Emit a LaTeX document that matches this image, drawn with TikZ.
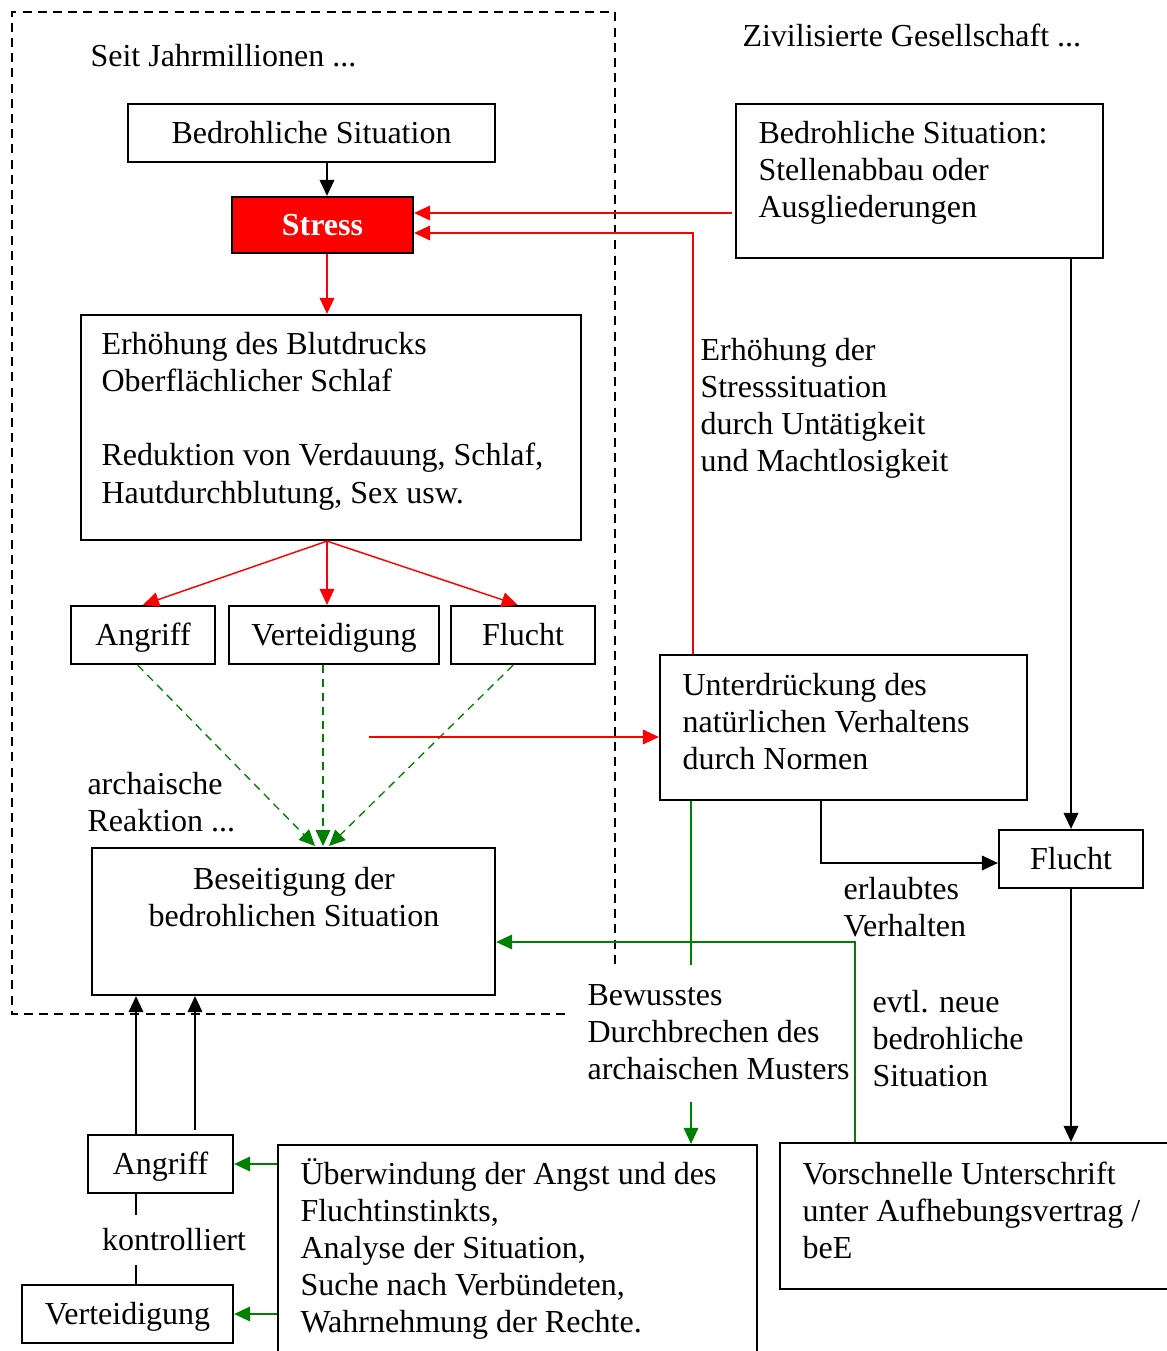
\documentclass[tikz,border=0pt]{standalone}
\usepackage{fontspec}
\setmainfont{Liberation Serif}
\usetikzlibrary{arrows.meta,fit}
\definecolor{darkgreen}{RGB}{0,128,0}

\begin{document}
\begin{tikzpicture}[x=0.375pt,y=-0.375pt,>={Triangle[length=6pt,width=5.5pt]},
    font=\fontsize{12}{13.9}\selectfont,
    box node/.style={draw,line width=0.85pt,inner sep=0pt},
    text node/.style={anchor=north west,inner sep=0pt,align=left,execute at begin node=\strut},
    red line/.style={->,red,line width=0.55pt},
    black line/.style={->,line width=0.6pt},
    green line/.style={darkgreen,line width=0.5pt},
    frame line/.style={line width=0.6pt,dash pattern=on 3.4pt off 2.3pt}]

    \useasboundingbox (0,0) rectangle (1166,1351);

    % frame round the archaic part
    \draw[frame line] (565,1014) -- (12,1014) -- (12,12) -- (615,12) -- (615,965);

    \node (seit) [text node] at (90,40) {Seit Jahrmillionen ...};
    \node (zivil) [text node] at (742,20) {Zivilisierte Gesellschaft ...};

    % boxes
    \node (bedr) [box node,fit={(128,104) (495,162)},label=center:Bedrohliche Situation] {};
    \node (stress) [box node,fill=red,fit={(232,197) (413,253)},
        label={[text=white,font=\fontsize{12}{13.9}\selectfont\bfseries]center:Stress}] {};
    \node (bedrR) [box node,fit={(736,104) (1103,258)}] {};
    \node (blut) [box node,fit={(81,315) (581,540)}] {};
    \node (angr) [box node,fit={(71,606) (215,664)},label={[yshift=-1pt]center:Angriff}] {};
    \node (vert) [box node,fit={(229,606) (439,664)},label={[yshift=-1pt]center:Verteidigung}] {};
    \node (flucht) [box node,fit={(451,606) (595,664)},label=center:Flucht] {};
    \node (besei) [box node,fit={(92,848) (495,995)}] {};
    \node (unter) [box node,fit={(660,655) (1027,800)}] {};
    \node (fluchtR) [box node,fit={(999,830) (1143,888)},label=center:Flucht] {};
    \node (vorsch) [box node,fit={(780,1143) (1178,1289)}] {};
    \node (uberw) [box node,fit={(278,1145) (757,1362)}] {};
    \node (angr2) [box node,fit={(88,1135) (233,1193)},label={[yshift=-1pt]center:Angriff}] {};
    \node (vert2) [box node,fit={(22,1285) (233,1343)},label={[yshift=-1pt]center:Verteidigung}] {};

    % texts
    \node (bedrR-txt) [text node] at (758,121) {Bedrohliche Situation:\\Stellenabbau oder\\Ausgliederungen};
    \node (blut-txt) [text node] at (101,332) {Erhöhung des Blutdrucks\\Oberflächlicher Schlaf\\[13.9pt]Reduktion von Verdauung, Schlaf,\\Hautdurchblutung, Sex usw.};
    \node (erh-txt) [text node] at (700,338) {Erhöhung der\\Stresssituation\\durch Untätigkeit\\und Machtlosigkeit};
    \node (unter-txt) [text node] at (682,673) {Unterdrückung des\\natürlichen Verhaltens\\durch Normen};
    \node (arch-txt) [text node] at (87,772) {archaische\\Reaktion ...};
    \node (besei-txt) [text node,anchor=north,align=center] at (294,867) {Beseitigung der\\bedrohlichen Situation};
    \node (erl-txt) [text node] at (843,877) {erlaubtes\\Verhalten};
    \node (evtl-txt) [text node] at (872,990) {evtl. neue\\bedrohliche\\Situation};
    \node (bew-txt) [text node] at (587,984) {Bewusstes\\Durchbrechen des\\archaischen Musters};
    \node (uberw-txt) [text node] at (300,1158) {Überwindung der Angst und des\\Fluchtinstinkts,\\Analyse der Situation,\\Suche nach Verbündeten,\\Wahrnehmung der Rechte.};
    \node (vorsch-txt) [text node] at (802,1161) {Vorschnelle Unterschrift\\unter Aufhebungsvertrag /\\beE};

    % helper points
    \coordinate (c) at (327,0);
    \coordinate (r1) at (732,213);
    \coordinate (r2) at (693,233);
    \coordinate (r3) at (369,737);
    \coordinate (g1) at (315,846);
    \coordinate (g2) at (323,846);
    \coordinate (g3) at (329,846);
    \coordinate (g4) at (855,942);
    \coordinate (g5) at (691,965);
    \coordinate (g6) at (691,1102);
    \coordinate (b1) at (821,863);
    \coordinate (k1) at (136,0);
    \coordinate (k2) at (195,1130);

    % archaic reaction
    \draw[black line] (c |- bedr.south) -- (c |- stress.north);
    \draw[red line] (c |- stress.south) -- (c |- blut.north);
    \draw[red line] (c |- blut.south) -- (angr.north);
    \draw[red line] (c |- blut.south) -- (c |- vert.north);
    \draw[red line] (c |- blut.south) -- ([xshift=-2pt]flucht.north);
    \draw[->,darkgreen,line width=0.5pt,dash pattern=on 3pt off 2.2pt] ([xshift=-2pt]angr.south) -- (g1);
    \draw[->,darkgreen,line width=0.5pt,dash pattern=on 3pt off 2.2pt] (g2 |- vert.south) -- (g2);
    \draw[->,darkgreen,line width=0.5pt,dash pattern=on 3pt off 2.2pt] ([xshift=-3.7pt]flucht.south) -- (g3);

    % civilised society
    \draw[red line] (r1) -- (r1 -| stress.east);
    \draw[red line] (r2 |- unter.north) -- (r2) -- (r2 -| stress.east);
    \draw[red line] (r3) -- (r3 -| unter.west);
    \draw[black line] (fluchtR.north |- bedrR.south) -- (fluchtR.north);
    \draw[black line] (b1 |- unter.south) -- (b1) -- (b1 -| fluchtR.west);
    \draw[black line] (fluchtR.south) -- (fluchtR.south |- vorsch.north);
    \draw[green line,->] (g4 |- vorsch.north) -- (g4) -- (g4 -| besei.east);
    \draw[green line] (g5 |- unter.south) -- (g5);
    \draw[green line,->] (g6) -- (g6 |- uberw.north);
    \draw[green line,->] (uberw.west |- angr2.east) -- (angr2.east);
    \draw[green line,->] (uberw.west |- vert2.east) -- (vert2.east);

    % controlled reaction
    \draw[black line] (k1 |- angr2.north) -- (k1 |- besei.south);
    \draw[black line] (k2) -- (k2 |- besei.south);
    \draw[line width=0.6pt] (k1 |- angr2.south) -- (k1 |- vert2.north);
    \node (kontr) [fill=white,inner xsep=0pt,inner ysep=5pt] at (174,1240) {kontrolliert};
\end{tikzpicture}
\end{document}
